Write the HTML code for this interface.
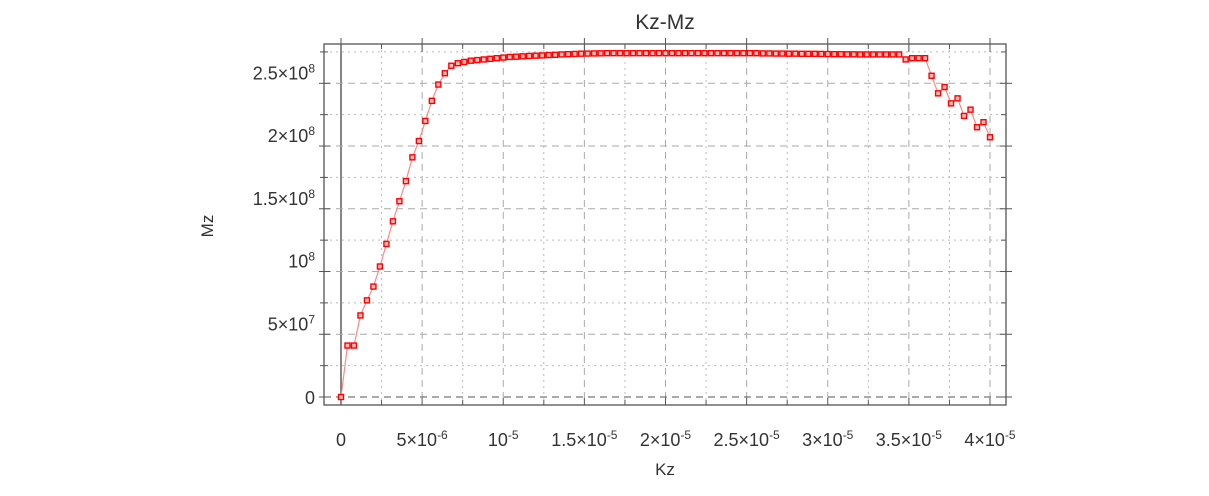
<!DOCTYPE html>
<html><head><meta charset="utf-8"><style>
body{margin:0;background:#fff;}
svg text{font-family:"Liberation Sans",sans-serif;fill:#333;}
</style></head><body>
<svg id="chart" width="1209" height="491" xmlns="http://www.w3.org/2000/svg">
<text x="665" y="29" font-size="21" text-anchor="middle">Kz-Mz</text>
<text x="207" y="232" font-size="17" text-anchor="middle" transform="rotate(-90 207 226)">Mz</text>
<text x="665" y="475" font-size="17" text-anchor="middle">Kz</text>
<g id="grid"></g>
<rect x="324" y="44" width="682" height="361" fill="none" stroke="#555" stroke-width="1.3"/>
<g id="ticks"></g>
<g id="series"></g>
</svg>
<script>
const xTicks=[0,5e-6,1e-5,1.5e-5,2e-5,2.5e-5,3e-5,3.5e-5,4e-5];
const xTickMant=["0","5","","1.5","2","2.5","3","3.5","4"];
const xTickExp=["","-6","-5","-5","-5","-5","-5","-5","-5"];
const yTicks=[0,5e7,1e8,1.5e8,2e8,2.5e8];
const yTickMant=["0","5","","1.5","2","2.5"];
const yTickExp=["","7","8","8","8","8"];
const mzValues=[0,0.41,0.41,0.65,0.77,0.88,1.04,1.22,1.40,1.56,1.72,1.91,2.04,2.20,2.36,2.49,2.58,2.64,2.66,2.67,
2.68,2.685,2.69,2.695,2.70,2.705,2.71,2.712,2.715,2.718,2.72,2.722,2.725,2.727,2.73,2.732,2.734,2.736,2.737,2.738,
2.739,2.74,2.74,2.74,2.74,2.74,2.74,2.74,2.74,2.74,2.74,2.74,2.74,2.74,2.74,2.74,2.74,2.74,2.74,2.74,
2.74,2.74,2.74,2.74,2.74,2.738,2.738,2.737,2.737,2.736,2.736,2.735,2.735,2.735,2.734,2.733,2.732,2.732,2.731,2.731,
2.73,2.73,2.73,2.73,2.73,2.73,2.73,2.69,2.70,2.70,2.70,2.56,2.42,2.47,2.34,2.38,2.24,2.29,2.15,2.19,2.07];
const kzStep=0.4e-6;
const NS="http://www.w3.org/2000/svg";
const X=v=>341+v*(649/4e-5);
const Y=v=>397-v*(313.7/2.5e8);
function mk(tag,attrs,parent){const e=document.createElementNS(NS,tag);for(const k in attrs)e.setAttribute(k,attrs[k]);parent.appendChild(e);return e;}
const grid=document.getElementById('grid'),ticks=document.getElementById('ticks'),series=document.getElementById('series');
xTicks.forEach((t,i)=>{
 const x=X(t);
 const l=mk('line',{x1:x,x2:x,y1:44,y2:405,stroke:i==0?'#444':'#aaa','stroke-width':i==0?1.3:1,'stroke-dasharray':i==0?'none':'7,5'},grid);
 
 
 if(i<xTicks.length-1){const xm=X(t+2.5e-6);
  const m=mk('line',{x1:xm,x2:xm,y1:44,y2:405,stroke:'#bbb','stroke-dasharray':'2,4'},grid);
  
  
  mk('line',{x1:xm,x2:xm,y1:44,y2:49,stroke:'#555'},ticks);mk('line',{x1:xm,x2:xm,y1:405,y2:400,stroke:'#555'},ticks);}
 mk('line',{x1:x,x2:x,y1:38,y2:52,stroke:'#555'},ticks);mk('line',{x1:x,x2:x,y1:405,y2:398,stroke:'#555'},ticks);
 const tx=mk('text',{x:x,y:446,'font-size':18,'text-anchor':'middle'},ticks);
 
 
 if(xTickExp[i]===""){tx.textContent=xTickMant[i];}
 else{tx.textContent=(xTickMant[i]?xTickMant[i]+'×':'')+'10';const s=mk('tspan',{dy:-7,'font-size':12},tx);s.textContent=xTickExp[i];}
});
yTicks.forEach((t,i)=>{
 const y=Y(t);
 const l=mk('line',{x1:324,x2:1006,y1:y,y2:y,stroke:i==0?'#555':'#aaa','stroke-dasharray':'7,5'},grid);
 
 
 const ym=Y(t+2.5e7);
 const m=mk('line',{x1:324,x2:1006,y1:ym,y2:ym,stroke:'#bbb','stroke-dasharray':'2,4'},grid);
 
 
 mk('line',{x1:319,x2:330,y1:y,y2:y,stroke:'#555'},ticks);mk('line',{x1:320,x2:328,y1:ym,y2:ym,stroke:'#555'},ticks);
 mk('line',{x1:1000,x2:1012,y1:y,y2:y,stroke:'#555'},ticks);mk('line',{x1:1001,x2:1006,y1:ym,y2:ym,stroke:'#555'},ticks);
 const tx=mk('text',{x:315,y:i==0?404:y-4,'font-size':18,'text-anchor':'end'},ticks);
 
 
 if(yTickExp[i]===""){tx.textContent=yTickMant[i];}
 else{tx.textContent=(yTickMant[i]?yTickMant[i]+'×':'')+'10';const s=mk('tspan',{dy:-7,'font-size':12},tx);s.textContent=yTickExp[i];}
});
const pts=mzValues.map((v,i)=>[X(i*kzStep),Y(v*1e8)]);
const pl=mk('polyline',{points:pts.map(p=>p.join(',')).join(' '),fill:'none',stroke:'#f88','stroke-width':1.2},series);


pts.forEach(p=>{
 const r=mk('rect',{x:p[0]-2.5,y:p[1]-2.5,width:5,height:5,fill:'#fbb',stroke:'#f00','stroke-width':1.4},series);
 
 
});
</script>
</body></html>
